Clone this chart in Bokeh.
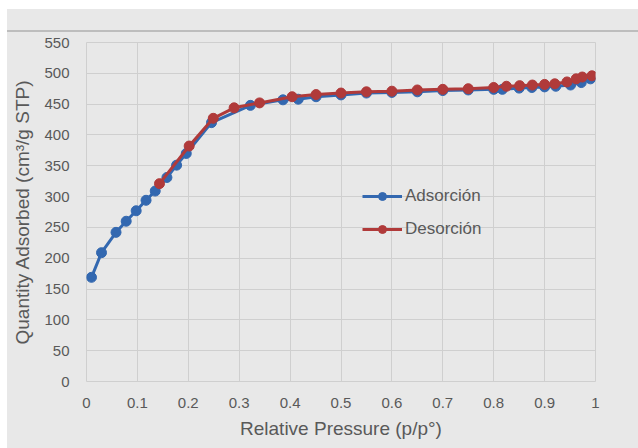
from bokeh.plotting import figure
from bokeh.models import FixedTicker, Legend, LegendItem, Range1d, ColumnDataSource
from bokeh.embed import file_html
from bokeh.resources import INLINE

# ---- data ----
ads_p = [0.0098, 0.0295, 0.058, 0.078, 0.0976, 0.117, 0.135, 0.158, 0.177, 0.196,
         0.2456, 0.322, 0.386, 0.416, 0.451, 0.50, 0.55, 0.60, 0.65, 0.70, 0.75,
         0.80, 0.817, 0.85, 0.875, 0.90, 0.922, 0.951, 0.972, 0.99]
ads_q = [169, 209, 242, 260, 277, 294, 309, 331, 351, 370,
         420, 448, 457, 458, 462, 465, 468, 469, 470, 472, 473,
         474, 474, 476, 477, 478, 479, 481, 485, 491]
des_p = [0.993, 0.974, 0.962, 0.944, 0.92, 0.90, 0.876, 0.851, 0.825, 0.80,
         0.75, 0.70, 0.65, 0.60, 0.55, 0.50, 0.451, 0.404, 0.34, 0.29,
         0.249, 0.2017, 0.1434]
des_q = [496, 494, 491, 486, 483, 482, 481, 480, 479, 477,
         475, 474, 473, 471, 470, 468, 465.5, 462, 452, 444,
         427, 382, 321]
x_ticks = [0, 0.1, 0.2, 0.3, 0.4, 0.5, 0.6, 0.7, 0.8, 0.9, 1.0]
x_tick_labels = ["0", "0.1", "0.2", "0.3", "0.4", "0.5", "0.6", "0.7", "0.8", "0.9", "1"]
y_ticks = [0, 50, 100, 150, 200, 250, 300, 350, 400, 450, 500, 550]
series_names = ["Adsorción", "Desorción"]

BG = "#e8e8e8"
GRID = "#cfcfcf"
TXT = "#595959"
BLUE = "#3368b0"
RED = "#b03a3a"
FONT = "Liberation Sans"

W, H = 638, 448
BL, BR, BT, BB = 86, 43, 42, 67

# page-like background behind the transparent canvas border: white strips at the
# top/left edge and a thin separator line across the top band
bg_css = ("linear-gradient(to right, #ffffff 0px, #ffffff 7px, rgba(0,0,0,0) 7px), "
          "linear-gradient(to bottom, #ffffff 0px, #ffffff 9px, %s 9px, %s 30px, "
          "#bdbdbd 30px, #bdbdbd 32px, %s 32px)" % (BG, BG, BG))

p = figure(width=W, height=H, output_backend="svg", toolbar_location=None,
           x_range=Range1d(0, 1), y_range=Range1d(0, 550),
           min_border_left=BL, min_border_right=BR, min_border_top=BT, min_border_bottom=BB,
           styles={"background": bg_css})
p.background_fill_color = BG
p.border_fill_color = None
p.outline_line_color = GRID

p.xaxis.ticker = FixedTicker(ticks=x_ticks)
p.xaxis.major_label_overrides = {t: l for t, l in zip(x_ticks, x_tick_labels)}
p.yaxis.ticker = FixedTicker(ticks=y_ticks)

for ax in (p.xaxis, p.yaxis):
    ax.axis_line_color = None
    ax.major_tick_line_color = None
    ax.minor_tick_line_color = None
    ax.major_label_text_font = FONT
    ax.major_label_text_font_size = "15px"
    ax.major_label_text_color = TXT
    ax.axis_label_text_font = FONT
    ax.axis_label_text_font_size = "19px"
    ax.axis_label_text_font_style = "normal"
    ax.axis_label_text_color = TXT

p.xaxis.axis_label = "Relative Pressure (p/p°)"
p.yaxis.axis_label = "Quantity Adsorbed (cm³/g STP)"
p.xaxis.major_label_standoff = 10
p.yaxis.major_label_standoff = 11
p.xaxis.axis_label_standoff = 7
p.yaxis.axis_label_standoff = 8

p.grid.grid_line_color = GRID
p.grid.grid_line_width = 1

src_a = ColumnDataSource(dict(x=ads_p, y=ads_q))
src_d = ColumnDataSource(dict(x=des_p, y=des_q))
la = p.line("x", "y", source=src_a, line_color=BLUE, line_width=3)
ca = p.scatter("x", "y", source=src_a, size=10, fill_color=BLUE, line_color=BLUE)
ld = p.line("x", "y", source=src_d, line_color=RED, line_width=3)
cd = p.scatter("x", "y", source=src_d, size=10, fill_color=RED, line_color=RED)

legend = Legend(items=[LegendItem(label=series_names[0], renderers=[la, ca]),
                       LegendItem(label=series_names[1], renderers=[ld, cd])],
                location=(276, 142))
legend.background_fill_alpha = 0
legend.border_line_color = None
legend.glyph_width = 40
legend.glyph_height = 20
legend.spacing = 13
legend.padding = 0
legend.margin = 0
legend.label_standoff = 3
legend.label_text_font = FONT
legend.label_text_font_size = "17px"
legend.label_text_color = TXT
p.add_layout(legend)

open("out.html", "w").write(file_html(p, INLINE))
